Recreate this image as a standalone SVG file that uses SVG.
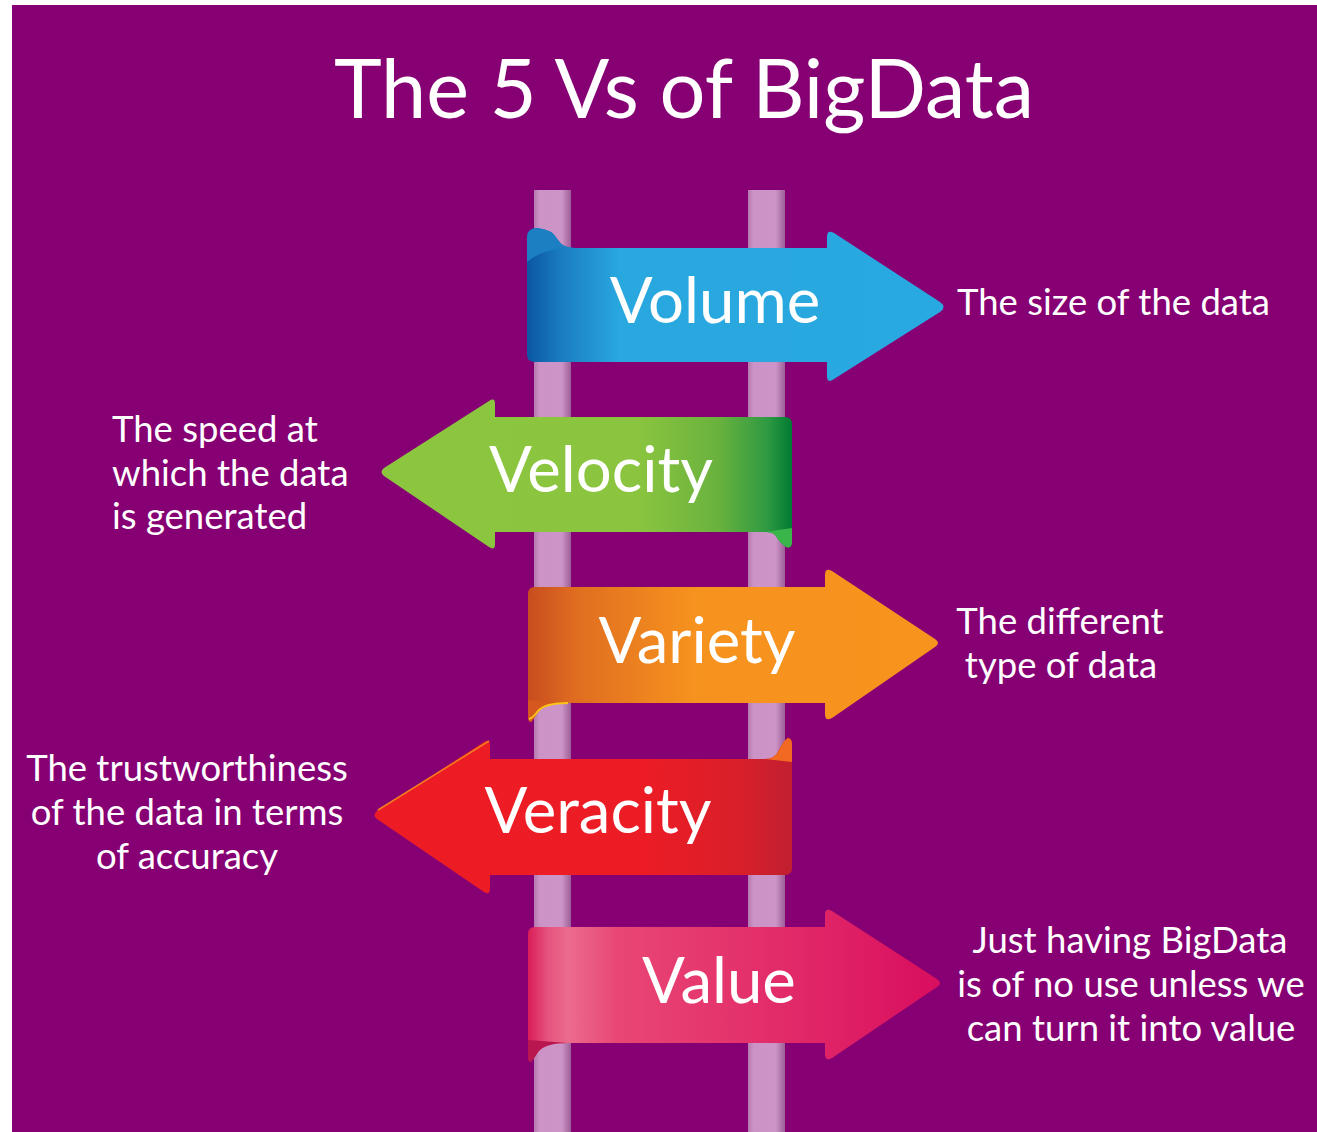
<svg xmlns="http://www.w3.org/2000/svg" width="1317" height="1132" viewBox="0 0 1317 1132">
<defs>
<style>
.t{font-family:Lato,"Liberation Sans",Arial,sans-serif;fill:#ffffff}
.title{font-size:81px;text-anchor:middle}
.lbl{font-size:63.5px;text-anchor:middle}
.desc{font-size:36.5px}
.mid{text-anchor:middle}
</style>
<linearGradient id="pole" x1="0" y1="0" x2="1" y2="0">
<stop offset="0" stop-color="#b57aaf"/>
<stop offset="0.15" stop-color="#cc93c6"/>
<stop offset="0.75" stop-color="#cd95c7"/>
<stop offset="1" stop-color="#9c5e97"/>
</linearGradient>
<linearGradient id="gVol" gradientUnits="userSpaceOnUse" x1="527" y1="0" x2="945" y2="0">
<stop offset="0" stop-color="#0b56a2"/>
<stop offset="0.08" stop-color="#1a7cc0"/>
<stop offset="0.22" stop-color="#29a7df"/>
<stop offset="1" stop-color="#29a9e1"/>
</linearGradient>
<linearGradient id="gVel" gradientUnits="userSpaceOnUse" x1="380" y1="0" x2="792" y2="0">
<stop offset="0" stop-color="#8cc63f"/>
<stop offset="0.62" stop-color="#8bc53f"/>
<stop offset="0.82" stop-color="#6ab23e"/>
<stop offset="0.94" stop-color="#2f9a42"/>
<stop offset="1" stop-color="#007a33"/>
</linearGradient>
<linearGradient id="gVar" gradientUnits="userSpaceOnUse" x1="528" y1="0" x2="940" y2="0">
<stop offset="0" stop-color="#c84d1f"/>
<stop offset="0.12" stop-color="#e06e20"/>
<stop offset="0.4" stop-color="#f6921e"/>
<stop offset="1" stop-color="#f7941d"/>
</linearGradient>
<linearGradient id="gVer" gradientUnits="userSpaceOnUse" x1="373" y1="0" x2="792" y2="0">
<stop offset="0" stop-color="#ed1c24"/>
<stop offset="0.65" stop-color="#ec1c25"/>
<stop offset="0.88" stop-color="#d81f2a"/>
<stop offset="1" stop-color="#c11f30"/>
</linearGradient>
<linearGradient id="gVal" gradientUnits="userSpaceOnUse" x1="527" y1="0" x2="942" y2="0">
<stop offset="0" stop-color="#d81a56"/>
<stop offset="0.05" stop-color="#e6547e"/>
<stop offset="0.1" stop-color="#ec6b8c"/>
<stop offset="0.22" stop-color="#e84674"/>
<stop offset="0.5" stop-color="#e4336c"/>
<stop offset="0.8" stop-color="#de1d64"/>
<stop offset="1" stop-color="#d80d5e"/>
</linearGradient>
</defs>
<rect x="0" y="0" width="1317" height="1132" fill="#ffffff"/>
<rect x="12" y="5" width="1305" height="1127" fill="#860073"/>
<text class="t title" x="684" y="118">The 5 Vs of BigData</text>
<g id="poles">
<rect x="534" y="190" width="37" height="942" fill="url(#pole)"/>
<rect x="748" y="190" width="37" height="942" fill="url(#pole)"/>
</g>
<g id="volume">
<path d="M527,355 L527,238 Q527,228 537,228 Q552,229 558,240 Q563,248 575,248 L827,248 L827,237 Q827,229 834,233 L940,302 Q947,307 940,312 L834,379 Q827,384 827,376 L827,362 L535,362 Q527,362 527,355 Z" fill="url(#gVol)"/>
<path d="M527,262 L527,238 Q527,228 537,228 Q552,229 558,240 Q563,248 575,248 Q545,247 527,262 Z" fill="#1b7fc2"/>
<text class="t lbl" x="715" y="323">Volume</text>
<text class="t desc" x="957" y="315">The size of the data</text>
</g>
<g id="velocity">
<path d="M785,417 Q792,417 792,424 L792,542 Q792,549 786,547 Q779,542 776,536 Q773,532 765,532 L495,532 L495,544 Q495,551 489,547 L384,476 Q379,472 384,468 L489,401 Q495,397 495,404 L495,417 Z" fill="url(#gVel)"/>
<path d="M792,528 L792,543 Q791,549 786,547 Q779,542 776,536 Q773,532 765,532 Z" fill="#39b54a"/>
<text class="t lbl" x="601" y="492">Velocity</text>
<text class="t desc" x="112" y="442">The speed at</text>
<text class="t desc" x="112" y="486">which the data</text>
<text class="t desc" x="112" y="529">is generated</text>
</g>
<g id="variety">
<path d="M528,594 Q528,587 535,587 L825,587 L825,575 Q825,567 832,571 L935,639 Q941,643 935,647 L832,718 Q825,722 825,714 L825,703 L568,703 Q545,703 538,712 Q533,720 531,722 Q528,722 528,716 Z" fill="url(#gVar)"/>
<path d="M528,700 L528,716 Q528,722 531,722 Q533,720 538,712 Q545,703 568,703 Z" fill="#d4581f"/>
<path d="M529,719 Q533,718 538,711 Q545,703 568,703" fill="none" stroke="#fcc416" stroke-width="2"/>
<text class="t lbl" x="697" y="663">Variety</text>
<text class="t desc mid" x="1060" y="634">The different</text>
<text class="t desc mid" x="1061" y="678">type of data</text>
</g>
<g id="veracity">
<path d="M490,759 L765,759 Q775,759 779,750 Q784,740 788,738 Q792,738 792,745 L792,868 Q792,875 785,875 L490,875 L490,888 Q490,896 484,892 L377,819 Q372,815 377,811 L484,742 Q490,738 490,746 Z" fill="url(#gVer)"/>
<path d="M792,762 L792,745 Q792,738 788,738 Q784,740 779,750 Q775,759 765,759 Z" fill="#f26a22"/>
<path d="M489,741 L378,810" fill="none" stroke="#f47c20" stroke-width="1.5"/>
<text class="t lbl" x="598" y="833">Veracity</text>
<text class="t desc mid" x="187" y="781">The trustworthiness</text>
<text class="t desc mid" x="187" y="825">of the data in terms</text>
<text class="t desc mid" x="187" y="869">of accuracy</text>
</g>
<g id="value">
<path d="M528,934 Q528,927 535,927 L825,927 L825,915 Q825,907 832,911 L937,979 Q943,983 937,987 L832,1058 Q825,1062 825,1054 L825,1043 L568,1043 Q545,1043 538,1052 Q533,1060 531,1062 Q528,1062 528,1056 Z" fill="url(#gVal)"/>
<path d="M528,1040 L528,1056 Q528,1062 531,1062 Q533,1060 538,1052 Q545,1043 568,1043 Z" fill="#b8164f"/>
<text class="t lbl" x="719" y="1003">Value</text>
<text class="t desc mid" x="1130" y="953">Just having BigData</text>
<text class="t desc mid" x="1131" y="997">is of no use unless we</text>
<text class="t desc mid" x="1131" y="1041">can turn it into value</text>
</g>
</svg>
